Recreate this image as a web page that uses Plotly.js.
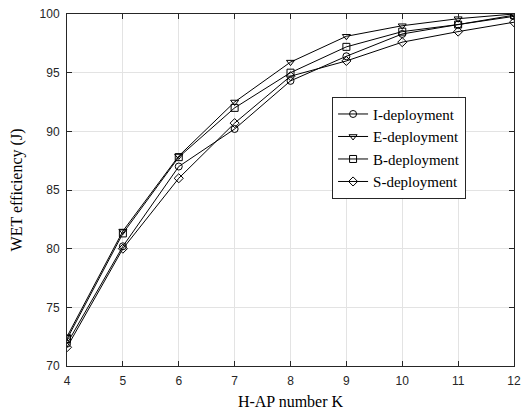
<!DOCTYPE html>
<html>
<head>
<meta charset="utf-8">
<script src="https://cdn.plot.ly/plotly-3.0.1.min.js"></script>
<style>html,body{margin:0;padding:0;background:#fff;}#chart{width:521px;height:413px;}</style>
</head>
<body>
<div id="chart"></div>
<script>
const K = [4, 5, 6, 7, 8, 9, 10, 11, 12];
const iDeploy = [71.9, 80.2, 87.0, 90.2, 94.3, 96.4, 98.3, 99.1, 99.8];
const eDeploy = [72.5, 81.5, 87.9, 92.5, 95.9, 98.1, 99.0, 99.6, 100.0];
const bDeploy = [72.3, 81.3, 87.8, 92.0, 95.0, 97.2, 98.5, 99.1, 99.9];
const sDeploy = [71.6, 80.0, 86.0, 90.7, 94.7, 96.0, 97.6, 98.5, 99.3];
const names = ["I-deployment", "E-deployment", "B-deployment", "S-deployment"];
const xTicks = [4, 5, 6, 7, 8, 9, 10, 11, 12];
const yTicks = [70, 75, 80, 85, 90, 95, 100];

const series = [iDeploy, eDeploy, bDeploy, sDeploy];
const symbols = ["circle-open", "triangle-down-open", "square-open", "diamond-open"];
const traces = series.map((ys, i) => ({
  x: K, y: ys, name: names[i], type: "scatter", mode: "lines+markers",
  line: {color: "#000", width: 1},
  marker: {symbol: symbols[i], size: 7, color: "#000", line: {color: "#000", width: 1}}
}));

const axisCommon = {
  showline: true, linecolor: "#262626", linewidth: 1, mirror: "ticks",
  ticks: "inside", ticklen: 5, tickcolor: "#262626",
  showgrid: true, gridcolor: "#e3e3e3", gridwidth: 1, zeroline: false,
  ticklabeloverflow: "allow",
  tickfont: {family: "Liberation Sans, Arial, sans-serif", size: 12, color: "#262626"}
};

const layout = {
  width: 521, height: 413,
  margin: {l: 67, r: 7, t: 14, b: 47},
  paper_bgcolor: "#fff", plot_bgcolor: "#fff",
  showlegend: true,
  legend: {
    x: 0.593, y: 0.765, xanchor: "left", yanchor: "top",
    bgcolor: "#fff", bordercolor: "#262626", borderwidth: 1,
    font: {family: "Liberation Serif, Times New Roman, serif", size: 15, color: "#000"}
  },
  xaxis: Object.assign({}, axisCommon, {
    range: [4, 12], tickvals: xTicks, ticktext: xTicks.map(String),
    ticklabelstandoff: 4,
    title: {text: "H-AP number K", standoff: 8,
      font: {family: "Liberation Serif, Times New Roman, serif", size: 16, color: "#000"}}
  }),
  yaxis: Object.assign({}, axisCommon, {
    range: [70, 100], tickvals: yTicks, ticktext: yTicks.map(String),
    ticklabelstandoff: 4,
    title: {text: "WET efficiency (J)", standoff: 12,
      font: {family: "Liberation Serif, Times New Roman, serif", size: 16, color: "#000"}}
  })
};

Plotly.newPlot("chart", traces, layout, {displayModeBar: false, staticPlot: true});
</script>
</body>
</html>
